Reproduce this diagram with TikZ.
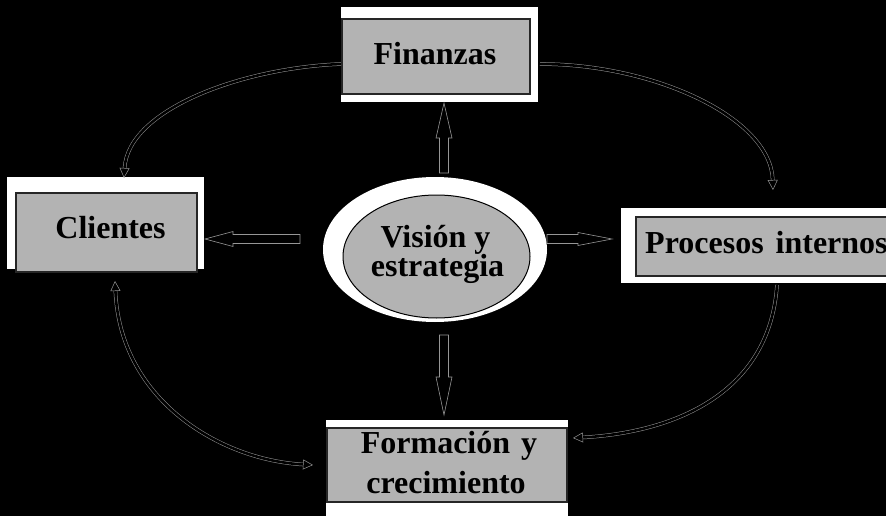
\documentclass[tikz,border=0pt]{standalone}
\usepackage{fontspec}
\setmainfont{Liberation Serif}
\usetikzlibrary{arrows.meta,shapes.geometric}
\definecolor{boxgray}{RGB}{179,179,179}
\definecolor{edgegray}{RGB}{150,150,150}
\tikzset{
  pics/barrow/.style n args={4}{code={
    \draw[blockline] (0,-#2/2) -- (#1-#3,-#2/2) -- (#1-#3,-#4/2) -- (#1,0)
      -- (#1-#3,#4/2) -- (#1-#3,#2/2) -- (0,#2/2) -- cycle;
  }},
}
\begin{document}
\begin{tikzpicture}[x=1pt,y=-1pt,
  box/.style={draw=black!85,line width=1.5pt,fill=boxgray,inner sep=0pt},
  lbl/.style={font=\bfseries\fontsize{32}{36}\selectfont,inner sep=0pt,anchor=base,text=black},
  blockline/.style={draw=edgegray,line width=0.6pt,fill=black},
  curvearrow/.style={draw=edgegray,line width=0.5pt,double=black,double distance=2.6pt},
  tip/.tip={Triangle[open,fill=black,length=10pt,width=10pt]},
]
\fill[black] (0,0) rectangle (886,516);
\useasboundingbox (0,0) rectangle (886,516);

% white backings
\fill[white] (341,7) rectangle (538,102);
\fill[white] (7,177) rectangle (204,269);
\fill[white] (621,208) rectangle (890,283);
\fill[white] (326,420) rectangle (568,520);
\fill[white] (435,249.5) ellipse [x radius=112, y radius=72.5];

% boxes
\node[box,minimum width=188pt,minimum height=75pt] (fin) at (436,56.5) {};
\node[box,minimum width=181pt,minimum height=79pt] (cli) at (106.5,232.5) {};
\node[box,minimum width=260pt,minimum height=59pt] (pro) at (766,246.5) {};
\node[box,minimum width=240pt,minimum height=74pt] (for) at (447,465) {};
\node[ellipse,draw=black,line width=1pt,fill=boxgray,inner sep=0pt,
      minimum width=187pt,minimum height=123pt] (vis) at (436.5,256.5) {};

% labels
\node[lbl] (tfin) at (435,65) {Finanzas};
\node[lbl] (tcli) at (110.5,238) {Clientes};
\node[lbl,anchor=base west] (tpro) at (645,253) {Procesos\hspace{12pt}internos};
\node[lbl] (tvis1) at (435.5,247) {Visión y};
\node[lbl] (tvis2) at (437.5,276) {estrategia};
\node[lbl] (tfor1) at (449,453) {Formación\hspace{11pt}y};
\node[lbl] (tfor2) at (446,493) {crecimiento};

% straight block arrows
\coordinate (upS) at (444,173);
\coordinate (dnS) at (444,335);
\coordinate (lfS) at (300,239);
\coordinate (rtS) at (547,239);
\pic[rotate=90] at (upS) {barrow={70}{9}{35}{16}};
\pic[rotate=-90] at (dnS) {barrow={80}{9}{38}{16}};
\pic[rotate=180] at (lfS) {barrow={95}{9}{28}{15}};
\pic at (rtS) {barrow={65}{9}{34}{13}};

% curved arrows
\coordinate (c1s) at (341,64);  \coordinate (c1e) at (124,178);
\coordinate (c2s) at (540,64);  \coordinate (c2e) at (773,190);
\coordinate (c3s) at (777,285); \coordinate (c3e) at (573,438);
\coordinate (c4s) at (115,281); \coordinate (c4e) at (313,465);
\draw[curvearrow,-tip] (c1s) .. controls (240,68) and (128,110) .. (c1e);
\draw[curvearrow,-tip] (c2s) .. controls (655,64) and (771,118) .. (c2e);
\draw[curvearrow,-tip] (c3s) .. controls (770,390) and (680,432) .. (c3e);
\draw[curvearrow,tip-tip] (c4s) .. controls (120,400) and (220,460) .. (c4e);
\end{tikzpicture}
\end{document}
